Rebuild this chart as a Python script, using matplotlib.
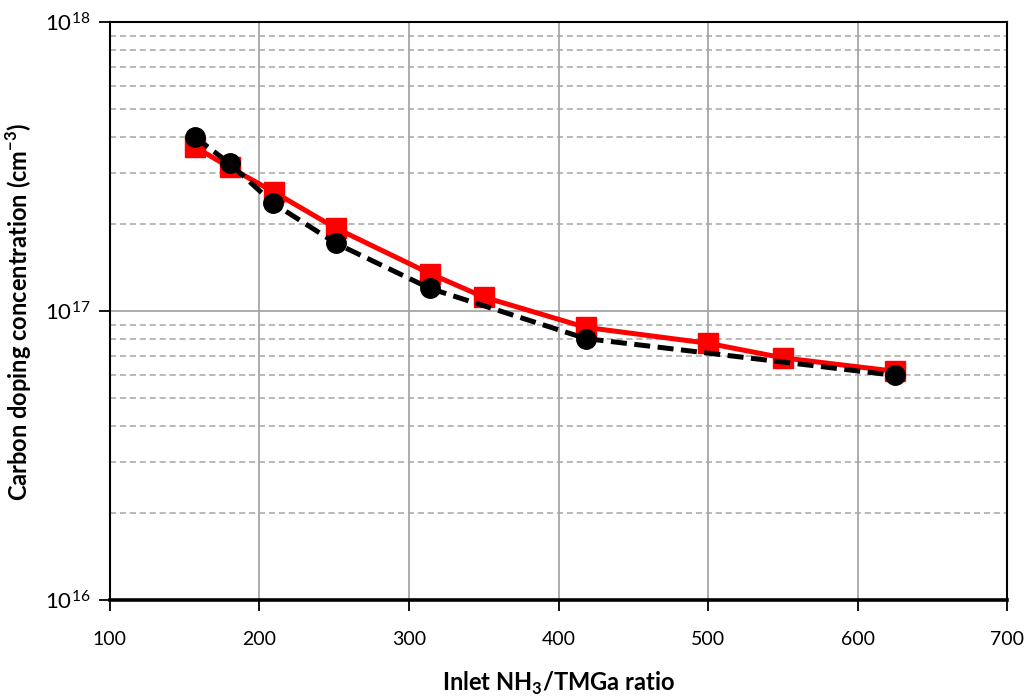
import numpy as np
import matplotlib
matplotlib.use("Agg")
import matplotlib.pyplot as plt
from matplotlib.ticker import LogLocator, FixedLocator

plt.rcParams['font.family'] = ['Lato', 'DejaVu Sans']
plt.rcParams['mathtext.fontset'] = 'custom'
plt.rcParams['mathtext.rm'] = 'Lato'
plt.rcParams['mathtext.bf'] = 'Lato:bold'

# red series (squares, solid line)
ratio_red = [157, 180, 210, 251, 314, 350, 418, 500, 550, 625]
carbon_red = [3.7e17, 3.15e17, 2.58e17, 1.94e17, 1.35e17, 1.12e17, 8.8e16, 7.75e16, 6.9e16, 6.2e16]

# black series (circles, dashed line)
ratio_blk = [157, 180, 209, 251, 314, 418, 625]
carbon_blk = [4.0e17, 3.25e17, 2.37e17, 1.72e17, 1.20e17, 8.05e16, 6.0e16]

fig = plt.figure(figsize=(10.27, 6.98), dpi=100)
ax = fig.add_axes([0.107, 0.140, 0.874, 0.828])

ax.plot(ratio_red, carbon_red, color='#ff0000', lw=3.6, marker='s', ms=15,
        zorder=3)
ax.plot(ratio_blk, carbon_blk, color='black', lw=3.6, ls=(0, (3.2, 1.5)),
        marker='o', ms=14, zorder=4)

ax.set_yscale('log')
ax.set_xlim(100, 700)
ax.set_ylim(1e16, 1e18)
ax.set_xticks(range(100, 701, 100))
ax.yaxis.set_major_locator(FixedLocator([1e16, 1e17, 1e18]))
ax.yaxis.set_minor_locator(LogLocator(base=10, subs=np.arange(2, 10)))

ax.grid(True, which='major', axis='x', color='#a6a6a6', lw=1.3)
ax.grid(True, which='major', axis='y', color='#a6a6a6', lw=1.3)
ax.grid(True, which='minor', axis='y', color='#a6a6a6', lw=1.1, ls=(0, (4, 2.5)))

ax.tick_params(axis='both', which='major', direction='out', length=8,
               width=1.3, labelsize=14, pad=6)
ax.tick_params(axis='y', labelsize=16)
ax.tick_params(axis='x', pad=14)
ax.tick_params(axis='y', which='minor', length=0)

for s in ['left', 'right', 'top']:
    ax.spines[s].set_linewidth(1.5)
ax.spines['bottom'].set_linewidth(2.6)

ax.set_xlabel(r'Inlet NH$_{\mathbf{3}}$/TMGa ratio', fontsize=17,
              fontweight='bold', labelpad=16)
ax.set_ylabel(r'Carbon doping concentration (cm$^{\mathbf{-3}}$)', fontsize=17,
              fontweight='bold', labelpad=8)

fig.savefig('out.png', dpi=100)
